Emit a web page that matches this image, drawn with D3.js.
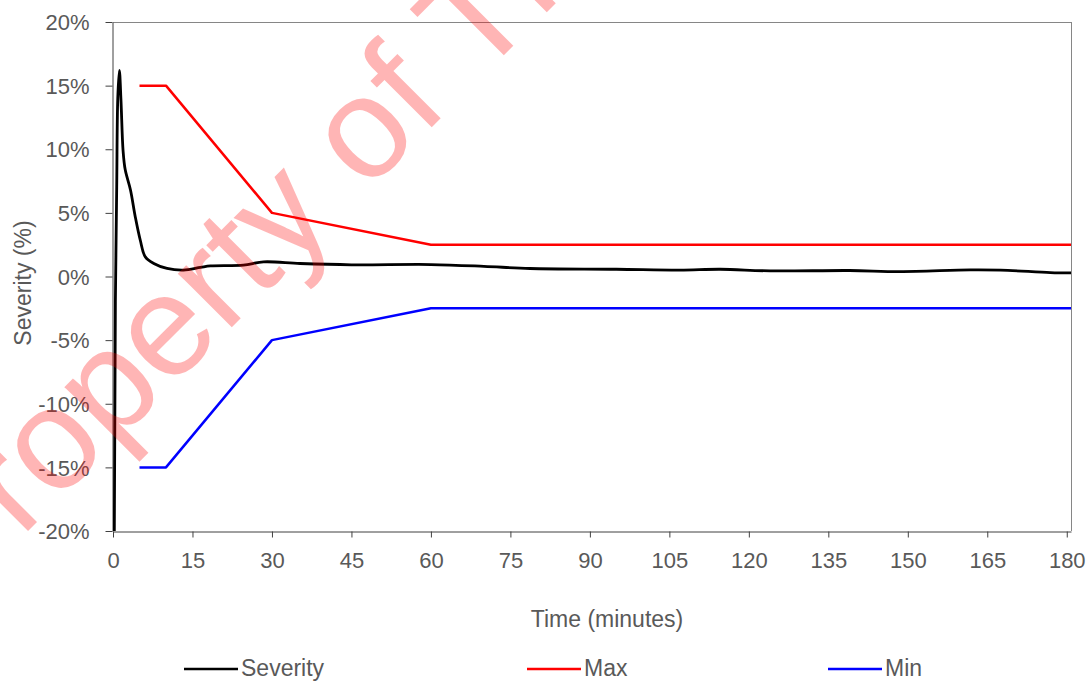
<!DOCTYPE html>
<html>
<head>
<meta charset="utf-8">
<script src="https://cdn.jsdelivr.net/npm/d3@7"></script>
<style>
  html, body { margin: 0; padding: 0; background: #fff; }
  svg { display: block; }
  text { font-family: "Liberation Sans", Arial, sans-serif; }
</style>
</head>
<body>
<svg id="chart" width="1090" height="681"></svg>
<script>
// ---- data ----
const sevTime = [0, 0.25, 0.45, 0.7, 0.9, 1.2, 1.5, 1.9, 2.3, 3.3, 4.2, 5.15, 6.1, 7.7, 10.2, 13.3, 16.5, 18.4, 24.6, 28.4, 35.3, 45, 60, 70, 78.7, 95, 107, 114.6, 124, 139, 148.5, 161.8, 167.5, 176.9, 180.8];
const sevValue = [-45, -20, -2, 7, 14, 16.2, 13.9, 9.9, 8.4, 6.8, 4.7, 2.85, 1.54, 1.02, 0.63, 0.5, 0.71, 0.83, 0.89, 1.15, 1.02, 0.92, 0.94, 0.8, 0.63, 0.57, 0.5, 0.57, 0.44, 0.47, 0.39, 0.52, 0.5, 0.31, 0.28];
const maxTime = [5, 10, 30, 60, 180.8];
const maxValue = [15, 15, 5, 2.5, 2.5];
const minTime = [5, 10, 30, 60, 180.8];
const minValue = [-15, -15, -5, -2.5, -2.5];
const xTicks = [0, 15, 30, 45, 60, 75, 90, 105, 120, 135, 150, 165, 180];
const yTicks = [-20, -15, -10, -5, 0, 5, 10, 15, 20];
const seriesNames = ["Severity", "Max", "Min"];
const seriesColors = ["#000000", "#ff0000", "#0000ff"];
const xTitle = "Time (minutes)";
const yTitle = "Severity (%)";
const watermark = "Property of The";

// ---- layout ----
const svg = d3.select("#chart");
const L = 113, R = 1071, T = 22, B = 531;
const x = d3.scaleLinear().domain([0, 180.8]).range([L, R]);
const y = d3.scaleLinear().domain([-20, 20]).range([B, T]);
const textColor = "#595959";

svg.append("defs").append("clipPath").attr("id", "plotclip")
  .append("rect").attr("x", L).attr("y", T).attr("width", R - L).attr("height", B - T);

// plot border (top, right)
svg.append("line").attr("x1", L).attr("x2", R).attr("y1", T + 0.5).attr("y2", T + 0.5)
  .attr("stroke", "#868686").attr("stroke-width", 1);
svg.append("line").attr("x1", R + 0.5).attr("x2", R + 0.5).attr("y1", T).attr("y2", B)
  .attr("stroke", "#868686").attr("stroke-width", 1);

// axes
const xAxis = svg.append("g").attr("transform", `translate(0,${B + 0.5})`)
  .call(d3.axisBottom(x).tickValues(xTicks).tickSize(6).tickSizeOuter(0).tickPadding(15));
const yAxis = svg.append("g").attr("transform", `translate(${L - 0.5},0)`)
  .call(d3.axisLeft(y).tickValues(yTicks).tickSize(7).tickSizeOuter(0).tickPadding(16)
    .tickFormat(d => d + "%"));
[xAxis, yAxis].forEach(g => {
  g.select(".domain").attr("stroke", "#404040");
  g.selectAll(".tick line").attr("stroke", "#404040");
  g.selectAll(".tick text").attr("fill", textColor)
    .style("font-size", "22px").style("font-family", "'Liberation Sans', Arial, sans-serif");
});
yAxis.selectAll(".tick text").attr("dy", "0.35em");

// axis titles
svg.append("text").attr("x", 607).attr("y", 627).attr("text-anchor", "middle")
  .attr("fill", textColor).style("font-size", "23px").text(xTitle);
svg.append("text").attr("transform", "translate(31,283) rotate(-90)").attr("text-anchor", "middle")
  .attr("fill", textColor).style("font-size", "23px").text(yTitle);

// series
const plot = svg.append("g").attr("clip-path", "url(#plotclip)");
const mk = (ts, vs) => ts.map((t, i) => [t, vs[i]]);
const lineSmooth = d3.line().x(d => x(d[0])).y(d => y(d[1])).curve(d3.curveCatmullRom.alpha(0.5));
const lineStraight = d3.line().x(d => x(d[0])).y(d => y(d[1]));

plot.append("path").datum(mk(maxTime, maxValue)).attr("d", lineStraight)
  .attr("fill", "none").attr("stroke", seriesColors[1]).attr("stroke-width", 2.5).attr("stroke-linejoin", "round");
plot.append("path").datum(mk(minTime, minValue)).attr("d", lineStraight)
  .attr("fill", "none").attr("stroke", seriesColors[2]).attr("stroke-width", 2.5).attr("stroke-linejoin", "round");
plot.append("path").datum(mk(sevTime, sevValue)).attr("d", lineSmooth)
  .attr("fill", "none").attr("stroke", seriesColors[0]).attr("stroke-width", 2.8).attr("stroke-linejoin", "round");

// legend
const legendX = [184, 527, 828];
const lg = svg.append("g");
seriesNames.forEach((name, i) => {
  lg.append("line").attr("x1", legendX[i]).attr("x2", legendX[i] + 54)
    .attr("y1", 669).attr("y2", 669).attr("stroke", seriesColors[i]).attr("stroke-width", 2.5);
  lg.append("text").attr("x", legendX[i] + 57).attr("y", 676)
    .attr("fill", textColor).style("font-size", "23px").text(name);
});

// watermark
svg.append("text").attr("transform", "translate(-47,606) rotate(-45)")
  .attr("fill", "#ff0000").attr("fill-opacity", 0.29)
  .style("font-size", "144px").style("font-family", "'Liberation Sans', Arial, sans-serif")
  .text(watermark);
</script>
</body>
</html>
